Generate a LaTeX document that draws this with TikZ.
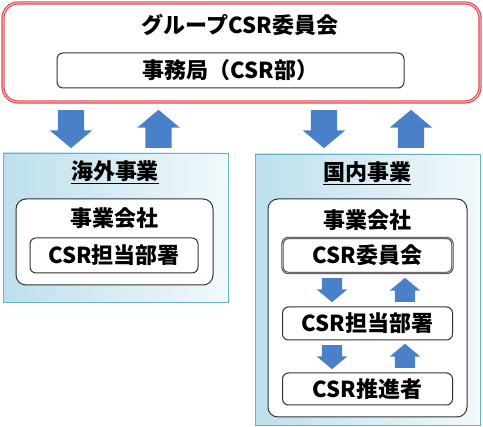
\documentclass[tikz,border=0pt]{standalone}
\usepackage{fontspec}
\setmainfont{Noto Sans CJK JP}
\usetikzlibrary{shapes.arrows,shadows}
\definecolor{csrred}{HTML}{E04850}
\definecolor{csrblue}{HTML}{4A80C8}
\definecolor{bizedge}{HTML}{6AB0CA}
\definecolor{bizshadow}{HTML}{2C7390}
\definecolor{bizfill}{HTML}{BCE0EC}

\begin{document}
\begin{tikzpicture}[x=1pt, y=-1pt, font=\bfseries\fontsize{22}{24}\selectfont,
  box/.style={draw=black!80, line width=1pt, fill=white, rounded corners=6pt, minimum height=35pt, inner sep=0pt},
  bizbox/.style={draw=bizedge, line width=0.8pt, left color=bizfill, right color=bizfill!20, minimum width=225pt,
    drop shadow={shadow xshift=1.3pt, shadow yshift=-1.3pt, fill=bizshadow, opacity=1}},
  bigarrow/.style={single arrow, fill=csrblue, draw=none, minimum height=38pt, inner xsep=0pt, inner ysep=13pt,
    single arrow head extend=8pt, single arrow tip angle=100, anchor=tail},
  smallarrow/.style={bigarrow, minimum height=24pt, inner ysep=10pt, single arrow head extend=5pt}]
\useasboundingbox (0,0) rectangle (483,427);

% group committee
\node[draw=csrred, double=csrred!35, double distance=1pt, line width=1.1pt, rounded corners=15pt,
  minimum width=477pt, minimum height=99pt] (group) at (241.5,52.5) {};
\node (grouptitle) at (240,25) {グループCSR委員会};
\node[box, minimum width=347pt] (office) at (230.5,70.5) {事務局（CSR部）};

% arrows between the committee and the businesses
\node[bigarrow, rotate=-90] (odown) at (71,110) {};
\node[bigarrow, rotate=90] (oup) at (158.5,148) {};
\node[bigarrow, rotate=-90] (ddown) at (324,110) {};
\node[bigarrow, rotate=90] (dup) at (411,148) {};

% overseas
\node[bizbox, minimum height=149pt] (overseas) at (115.5,227.5) {};
\node (overseastitle) at (115,172) {\underline{海外事業}};
\node[box, rounded corners=10pt, minimum width=197pt, minimum height=86pt] (ocompany) at (114.5,242) {};
\node (ocompanytitle) at (114.5,218) {事業会社};
\node[box, minimum width=168pt] (odept) at (114,255.5) {CSR担当部署};

% domestic
\node[bizbox, minimum height=271pt] (domestic) at (367.5,289.5) {};
\node (domestictitle) at (367,173) {\underline{国内事業}};
\node[box, rounded corners=10pt, minimum width=199pt, minimum height=218pt] (dcompany) at (367.5,308) {};
\node (dcompanytitle) at (367.5,220) {事業会社};
\node[box, draw=black!75, double=black!30, double distance=0.8pt, line width=0.8pt, minimum width=170pt] (dcommittee) at (367.5,255.5) {CSR委員会};
\node[box, minimum width=170pt, minimum height=33pt] (ddept) at (367.5,323.5) {CSR担当部署};
\node[box, minimum width=170pt, minimum height=32pt] (dpromoter) at (367.5,389) {CSR推進者};

\node[smallarrow, rotate=-90] (cdown) at (332,278) {};
\node[smallarrow, rotate=90] (cup) at (405,302) {};
\node[smallarrow, rotate=-90] (pdown) at (332,345) {};
\node[smallarrow, rotate=90] (pup) at (405,368) {};
\end{tikzpicture}
\end{document}
